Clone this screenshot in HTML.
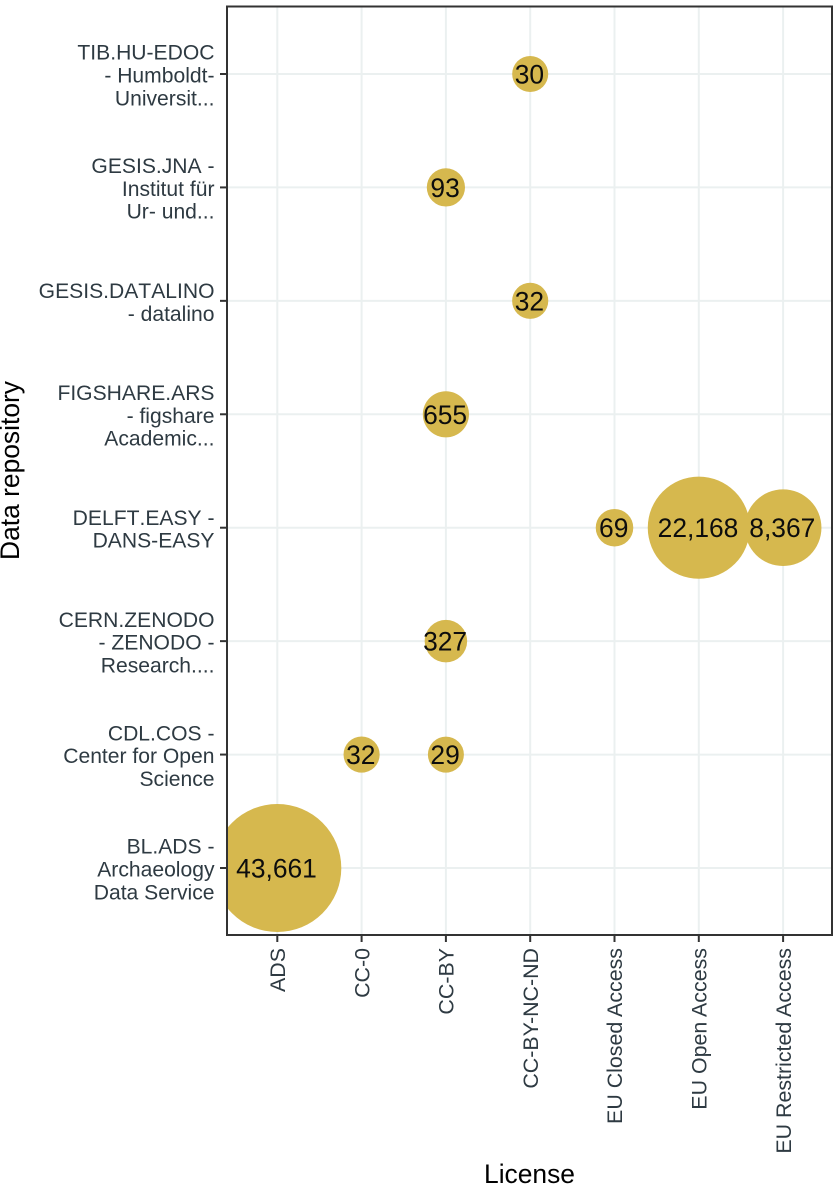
<!DOCTYPE html>
<html>
<head>
<meta charset="utf-8">
<title>Data repository by license</title>
<style>
html,body{margin:0;padding:0;background:#fff;}
svg{display:block;font-family:"Liberation Sans",Arial,sans-serif;}
</style>
</head>
<body>
<svg id="chart" width="833" height="1189" viewBox="0 0 833 1189" xmlns="http://www.w3.org/2000/svg"></svg>
<script>
const licenses = ["ADS","CC-0","CC-BY","CC-BY-NC-ND","EU Closed Access","EU Open Access","EU Restricted Access"];
const repositories = [
  ["BL.ADS -","Archaeology","Data Service"],
  ["CDL.COS -","Center for Open","Science"],
  ["CERN.ZENODO","- ZENODO -","Research...."],
  ["DELFT.EASY -","DANS-EASY"],
  ["FIGSHARE.ARS","- figshare","Academic..."],
  ["GESIS.DATALINO","- datalino"],
  ["GESIS.JNA -","Institut für","Ur- und..."],
  ["TIB.HU-EDOC","- Humboldt-","Universit..."]
];
const pointLicense = [0,1,2,2,4,5,6,2,3,2,3];
const pointRepository = [0,1,1,2,3,3,3,4,5,6,7];
const pointValues = [43661,32,29,327,69,22168,8367,655,32,93,30];

const NS = "http://www.w3.org/2000/svg";
const svg = document.getElementById("chart");
const panel = {left:227, right:832, top:6.5, bottom:935};

function xScale(i){ return 277.3 + i * 84.3; }
function yScale(i){ return 868 - i * 113.43; }
function rScale(v){
  const p = 0.47;
  const lo = Math.pow(Math.min(...pointValues), p);
  const hi = Math.pow(Math.max(...pointValues), p);
  return 18 + (64 - 18) * (Math.pow(v, p) - lo) / (hi - lo);
}
function fmt(v){ return v.toLocaleString("en-US"); }
function mk(tag, attrs, parent){
  const el = document.createElementNS(NS, tag);
  for (const k in attrs) el.setAttribute(k, attrs[k]);
  (parent || svg).appendChild(el);
  return el;
}

const clipDefs = mk("defs", {});
const clip = mk("clipPath", {id:"panel-clip"}, clipDefs);
mk("rect", {x:panel.left, y:panel.top, width:panel.right-panel.left, height:panel.bottom-panel.top}, clip);

const bg = mk("rect", {x:panel.left, y:panel.top, width:panel.right-panel.left, height:panel.bottom-panel.top, fill:"#ffffff"});



licenses.forEach(function(name, i){
  const g = mk("line", {x1:xScale(i), x2:xScale(i), y1:panel.top, y2:panel.bottom, stroke:"#ebf0f0", "stroke-width":2});
  
  
});
repositories.forEach(function(lines, i){
  const g = mk("line", {x1:panel.left, x2:panel.right, y1:yScale(i), y2:yScale(i), stroke:"#ebf0f0", "stroke-width":2});
  
  
});

pointValues.forEach(function(v, i){
  const c = mk("circle", {cx:xScale(pointLicense[i]), cy:yScale(pointRepository[i]), r:rScale(v), fill:"#d6b84e", "clip-path":"url(#panel-clip)"});
  
  
});
pointValues.forEach(function(v, i){
  const t = mk("text", {x:xScale(pointLicense[i]) - 0.8, y:yScale(pointRepository[i]) + 9.5, "text-anchor":"middle", "font-size":"26.4px", fill:"#0d0d0d"});
  t.textContent = fmt(v);
  
  
});

const border = mk("rect", {x:panel.left, y:panel.top, width:panel.right-panel.left, height:panel.bottom-panel.top, fill:"none", stroke:"#333333", "stroke-width":2});



licenses.forEach(function(name, i){
  const x = xScale(i);
  const tick = mk("line", {x1:x, x2:x, y1:panel.bottom, y2:panel.bottom+7, stroke:"#333333", "stroke-width":2});
  
  
  const t = mk("text", {transform:"translate(" + (x + 7.7) + ",948) rotate(-90)", "text-anchor":"end", "font-size":"21.4px", fill:"#2e3a42"});
  t.textContent = name;
  
  
});

repositories.forEach(function(lines, i){
  const y = yScale(i);
  const tick = mk("line", {x1:panel.left-7, x2:panel.left, y1:y, y2:y, stroke:"#333333", "stroke-width":2});
  
  
  const t = mk("text", {"text-anchor":"end", "font-size":"21.1px", "style":"font-kerning:none", fill:"#2e3a42"});
  
  
  const lh = 22.8;
  const first = y + 8.5 - (lines.length - 1) * lh / 2;
  lines.forEach(function(line, j){
    const s = mk("tspan", {x:214.5, y:first + j * lh}, t);
    s.textContent = line;
  });
});

const xt = mk("text", {x:529.5, y:1183, "text-anchor":"middle", "font-size":"26.4px", fill:"#000"});
xt.textContent = "License";



const yt = mk("text", {transform:"translate(19,470.5) rotate(-90)", "text-anchor":"middle", "font-size":"26.4px", fill:"#000"});
yt.textContent = "Data repository";


</script>
</body>
</html>
